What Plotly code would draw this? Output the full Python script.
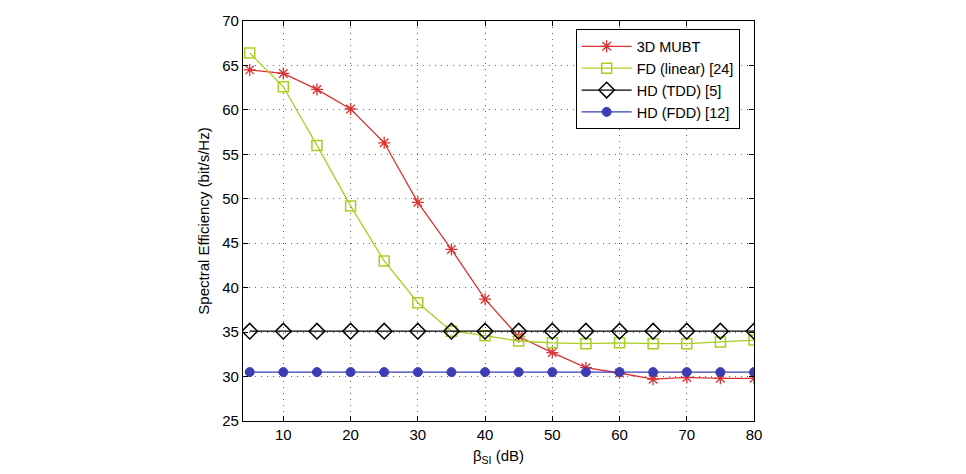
import plotly.graph_objects as go

beta_si = [5, 10, 15, 20, 25, 30, 35, 40, 45, 50, 55, 60, 65, 70, 75, 80]
mubt_3d = [64.5, 64.1, 62.3, 60.1, 56.3, 49.6, 44.3, 38.7, 34.5, 32.7, 31.0, 30.4, 29.7, 29.9, 29.8, 29.8]
fd_linear = [66.4, 62.6, 56.0, 49.2, 43.0, 38.3, 35.1, 34.6, 34.0, 33.8, 33.7, 33.8, 33.7, 33.7, 33.9, 34.1]
hd_tdd = [35.1] * 16
hd_fdd = [30.5] * 16

series = [
    ("3D MUBT", mubt_3d, "#dc3232", "asterisk-open", 10, 1.3),
    ("FD (linear) [24]", fd_linear, "#a6cf22", "square-open", 10, 1.5),
    ("HD (TDD) [5]", hd_tdd, "#000000", "diamond-open", 12, 1.5),
    ("HD (FDD) [12]", hd_fdd, "#3c3cb4", "circle", 9, 1),
]

fig = go.Figure()
for name, vals, col, sym, sz, lw in series:
    fig.add_trace(go.Scatter(
        x=beta_si, y=vals, name=name, mode="lines+markers",
        line=dict(color=col, width=1.3),
        marker=dict(symbol=sym, size=sz, color=col, line=dict(color=col, width=lw)),
    ))

FONT = "Liberation Sans, Arial"
axis_common = dict(
    showline=True, linecolor="black", linewidth=1.2, mirror="ticks",
    ticks="inside", ticklen=5, tickcolor="black",
    showgrid=True, gridcolor="#666666", griddash="1px,5px", gridwidth=1,
    zeroline=False, tickfont=dict(family=FONT, size=15, color="black"),
)

fig.update_xaxes(range=[4, 80], tickvals=[10, 20, 30, 40, 50, 60, 70, 80],
                 title=dict(text="β<sub>SI</sub> (dB)", font=dict(family=FONT, size=15, color="black"), standoff=8),
                 **axis_common)
fig.update_yaxes(range=[25, 70], tickvals=[25, 30, 35, 40, 45, 50, 55, 60, 65, 70],
                 title=dict(text="Spectral Efficiency (bit/s/Hz)", font=dict(family=FONT, size=15, color="black"), standoff=8),
                 **axis_common)

fig.update_layout(
    width=966, height=474,
    margin=dict(l=243, r=212, t=20, b=51),
    paper_bgcolor="white", plot_bgcolor="white",
    showlegend=True,
    legend=dict(x=0.651, y=0.979, xanchor="left", yanchor="top",
                bordercolor="black", borderwidth=1, bgcolor="white",
                font=dict(family=FONT, size=14.5, color="black"),
                tracegroupgap=0, itemwidth=50),
)

fig.write_html("out.html")
